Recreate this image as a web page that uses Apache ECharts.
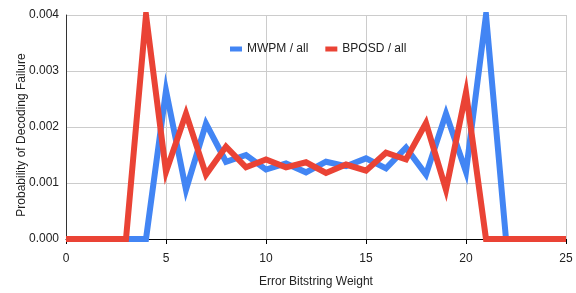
<!DOCTYPE html>
<html>
<head>
<meta charset="utf-8">
<script src="https://cdn.jsdelivr.net/npm/echarts@6/dist/echarts.min.js"></script>
<style>html,body{margin:0;padding:0;background:#fff}#c{width:576px;height:293px}</style>
</head>
<body>
<div id="c"></div>
<script>
var weights = [0,1,2,3,4,5,6,7,8,9,10,11,12,13,14,15,16,17,18,19,20,21,22,23,24,25];
var mwpm  = [0,0,0,0,0,0.00265,0.00088,0.00206,0.00138,0.00150,0.00124,0.00135,0.00119,0.00138,0.00130,0.00144,0.00126,0.00163,0.00115,0.00224,0.00120,0.00400,0,0,0,0];
var bposd = [0,0,0,0,0.00400,0.00120,0.00224,0.00115,0.00165,0.00128,0.00142,0.00128,0.00137,0.00118,0.00133,0.00122,0.00154,0.00142,0.00207,0.00088,0.00262,0,0,0,0,0];
var xTicks = [0,5,10,15,20,25];
var yTicks = [0,0.001,0.002,0.003,0.004];

function pairs(v){ return weights.map(function(w,i){ return [w, v[i]]; }); }
var font = 'Liberation Sans, Arial, sans-serif';
var chart = echarts.init(document.getElementById('c'));
chart.setOption({
  animation:false,
  grid:{left:66, right:10, top:15, bottom:52, containLabel:false},
  legend:{
    left:225, top:38, icon:'rect', itemWidth:12, itemHeight:5, itemGap:17,
    textStyle:{fontFamily:font, fontSize:12, color:'#222'},
    data:['MWPM / all','BPOSD / all']
  },
  xAxis:{
    type:'value', min:xTicks[0], max:xTicks[xTicks.length-1], interval:5,
    name:'Error Bitstring Weight', nameLocation:'middle', nameGap:37, nameMoveOverlap:false,
    nameTextStyle:{fontFamily:font, fontSize:12, color:'#222'},
    axisLine:{show:true, lineStyle:{color:'#000', width:1}},
    axisTick:{show:true, length:5, lineStyle:{color:'#000'}},
    axisLabel:{margin:14, fontFamily:font, fontSize:12, color:'#222'},
    splitLine:{show:true, lineStyle:{color:'#ccc', width:1}}
  },
  yAxis:{
    type:'value', min:yTicks[0], max:yTicks[yTicks.length-1], interval:0.001,
    name:'Probability of Decoding Failure', nameLocation:'middle', nameGap:38, nameMoveOverlap:false,
    nameTextStyle:{fontFamily:font, fontSize:12, color:'#222', padding:[0,16,0,0]},
    axisLine:{show:true, lineStyle:{color:'#333', width:1}},
    axisTick:{show:false},
    axisLabel:{margin:7, fontFamily:font, fontSize:12, color:'#222', formatter:function(v){return v.toFixed(3);}},
    splitLine:{show:true, lineStyle:{color:'#ccc', width:1}}
  },
  series:[
    {name:'MWPM / all', type:'line', data:pairs(mwpm), symbol:'none', color:'#4285F4',
     lineStyle:{width:6, color:'#4285F4', join:'miter', miterLimit:10}, z:2},
    {name:'BPOSD / all', type:'line', data:pairs(bposd), symbol:'none', color:'#EA4335',
     lineStyle:{width:6, color:'#EA4335', join:'miter', miterLimit:10}, z:3}
  ]
});
</script>
</body>
</html>
